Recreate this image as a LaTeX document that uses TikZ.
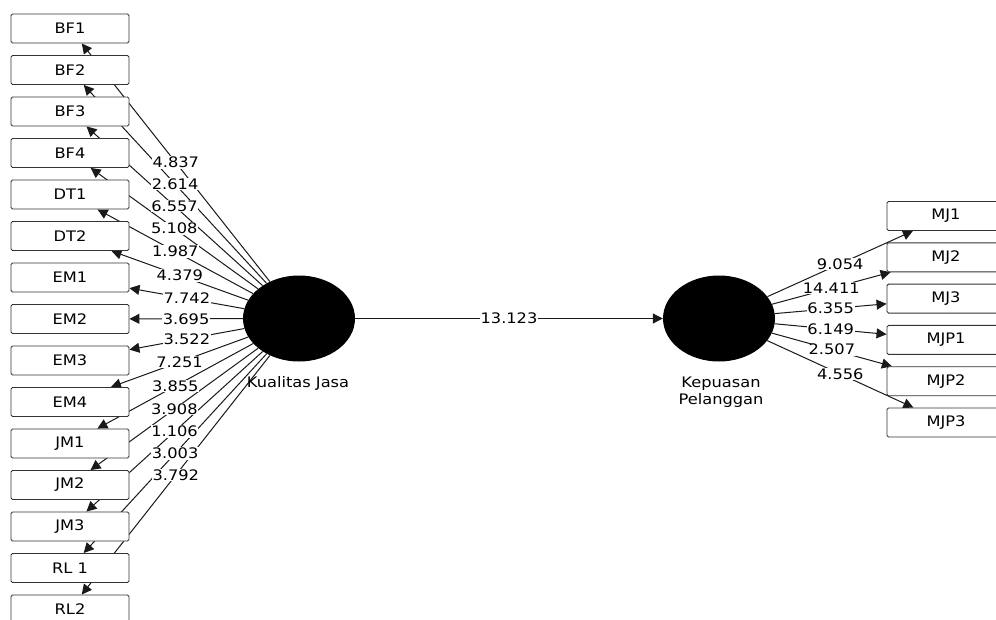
\documentclass[tikz,border=0pt]{standalone}
\usepackage{fontspec}
\setmainfont{DejaVu Sans}[FakeStretch=1.12]
\usetikzlibrary{arrows.meta,shapes.geometric,backgrounds}

\begin{document}
\begin{tikzpicture}[x=1pt,y=-1pt,
  txt/.style={font=\fontsize{14.5}{17}\selectfont},
  ind/.style={txt, draw=black!80, line width=0.9pt, fill=white, rounded corners=1.5pt,
    minimum width=118pt, minimum height=29pt, inner sep=0pt},
  lv/.style={ellipse, fill=black, minimum width=112pt, minimum height=86pt, inner sep=0pt},
  conn/.style={draw=black!90, line width=1pt, -{Triangle[length=10pt,width=10pt]}},
  coef/.style={txt, fill=white, inner sep=0.6pt},
]
\useasboundingbox (0,0) rectangle (996,619);
\clip (0,0) rectangle (996,619);

% latent variables
\node[lv] (KJ) at (299,318.5) {};
\node[lv] (KP) at (719,318.5) {};
\node[txt] (KJt) at (298,383) {Kualitas Jasa};
\node[txt, align=center] (KPt) at (721,392) {Kepuasan\\Pelanggan};

% indicators of Kualitas Jasa
\foreach \n/\t [count=\i from 0] in {BF1/BF1,BF2/BF2,BF3/BF3,BF4/BF4,DT1/DT1,DT2/DT2,
    EM1/EM1,EM2/EM2,EM3/EM3,EM4/EM4,JM1/JM1,JM2/JM2,JM3/JM3,RL1/RL 1,RL2/RL2}
  \node[ind] (\n) at (70,{28.5+41.5*\i}) {\t};

% indicators of Kepuasan Pelanggan
\foreach \n [count=\i from 0] in {MJ1,MJ2,MJ3,MJP1,MJP2,MJP3}
  \node[ind] (\n) at (946,{216+41.3*\i}) {\n};

% outer loadings and structural path, behind the boxes
\begin{scope}[on background layer]
  \foreach \n in {BF1,BF2,BF3,BF4,DT1,DT2,EM1,EM2,EM3,EM4,JM1,JM2,JM3,RL1,RL2}
    \draw[conn] (KJ) -- (\n);
  \foreach \n in {MJ1,MJ2,MJ3,MJP1,MJP2,MJP3}
    \draw[conn] (KP) -- (\n);
  \draw[conn] (KJ) -- (KP);
\end{scope}

% t-values on the connectors
\foreach \n/\v in {BF1/4.837,BF2/2.614,BF3/6.557,BF4/5.108,DT1/1.987,DT2/4.379,
    EM1/7.742,EM2/3.695,EM3/3.522,EM4/7.251,JM1/3.855,JM2/3.908,JM3/1.106,
    RL1/3.003,RL2/3.792}
  \path (KJ) -- (\n) node[coef, midway] {\v};
\foreach \n/\v in {MJ1/9.054,MJ2/14.411,MJ3/6.355,MJP1/6.149,MJP2/2.507,MJP3/4.556}
  \path (KP) -- (\n) node[coef, midway] {\v};
\path (KJ) -- (KP) node[coef, midway] {13.123};
\end{tikzpicture}
\end{document}
